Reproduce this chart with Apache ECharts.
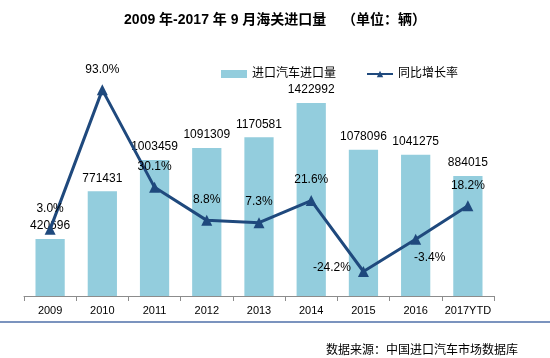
<!DOCTYPE html>
<html><head><meta charset="utf-8">
<script src="https://cdn.jsdelivr.net/npm/echarts@6/dist/echarts.min.js"></script>
<style>html,body{margin:0;padding:0;background:#fff}#c{width:550px;height:358px}</style>
</head><body><div id="c"></div>
<script>
const categories = ['2009','2010','2011','2012','2013','2014','2015','2016','2017YTD'];
const importVolume = [420696, 771431, 1003459, 1091309, 1170581, 1422992, 1078096, 1041275, 884015];
const growthRate = [3.0, 93.0, 30.1, 8.8, 7.3, 21.6, -24.2, -3.4, 18.2];
const titleText = '2009 年-2017 年 9 月海关进口量    （单位：辆）';
const sourceText = '数据来源：中国进口汽车市场数据库';

const FONT = '"Liberation Sans", "Noto Sans CJK SC", sans-serif';
const chart = echarts.init(document.getElementById('c'));

const lineLabelCfg = [
  {}, {}, {}, {}, {}, {},
  {position: 'left', offset: [2, -4]},
  {position: 'bottom', offset: [14, -2]},
  {}
];

chart.setOption({
  animation: false,
  textStyle: {fontFamily: FONT},
  title: {
    text: titleText, left: 'center', top: 8,
    textStyle: {fontSize: 14, fontWeight: 'bold', color: '#000', fontFamily: FONT}
  },
  legend: {
    top: 63, left: 216, itemGap: 30, itemWidth: 26, itemHeight: 8,
    textStyle: {fontSize: 12, color: '#000', fontFamily: FONT},
    data: [
      {name: '进口汽车进口量', icon: 'rect'},
      {name: '同比增长率'}
    ]
  },
  grid: {left: 24, right: 56, top: 79, bottom: 62},
  xAxis: {
    type: 'category', data: categories, boundaryGap: true,
    axisLine: {lineStyle: {color: '#8c8c8c', width: 1}},
    axisTick: {show: true, length: 5, lineStyle: {color: '#8c8c8c'}},
    axisLabel: {interval: 0, fontSize: 11, color: '#000', margin: 9, fontFamily: FONT}
  },
  yAxis: [
    {type: 'value', min: 0, max: 1600000, show: false, splitLine: {show: false}},
    {type: 'value', min: -40, max: 100, show: false, splitLine: {show: false}}
  ],
  series: [
    {
      name: '进口汽车进口量', type: 'bar', data: importVolume, barWidth: '56%',
      itemStyle: {color: '#93CDDD'},
      label: {show: true, position: 'top', distance: 7, fontSize: 12, color: '#000', fontFamily: FONT}
    },
    {
      name: '同比增长率', type: 'line', yAxisIndex: 1,
      data: growthRate.map((v, i) => ({value: v, label: lineLabelCfg[i]})),
      symbol: 'triangle', symbolSize: 11,
      lineStyle: {color: '#1F497D', width: 3},
      itemStyle: {color: '#1F497D'},
      label: {show: true, position: 'top', distance: 9, fontSize: 12, color: '#000', fontFamily: FONT,
        formatter: p => p.value.toFixed(1) + '%'},
      z: 5
    }
  ],
  graphic: [
    {type: 'line', shape: {x1: 0, y1: 322, x2: 550, y2: 322}, style: {stroke: '#4F6FA8', lineWidth: 1.5}},
    {type: 'text', right: 32, top: 343, style: {text: sourceText, font: '12px "Noto Sans CJK SC", sans-serif', fill: '#000'}}
  ]
});
</script>
</body></html>
